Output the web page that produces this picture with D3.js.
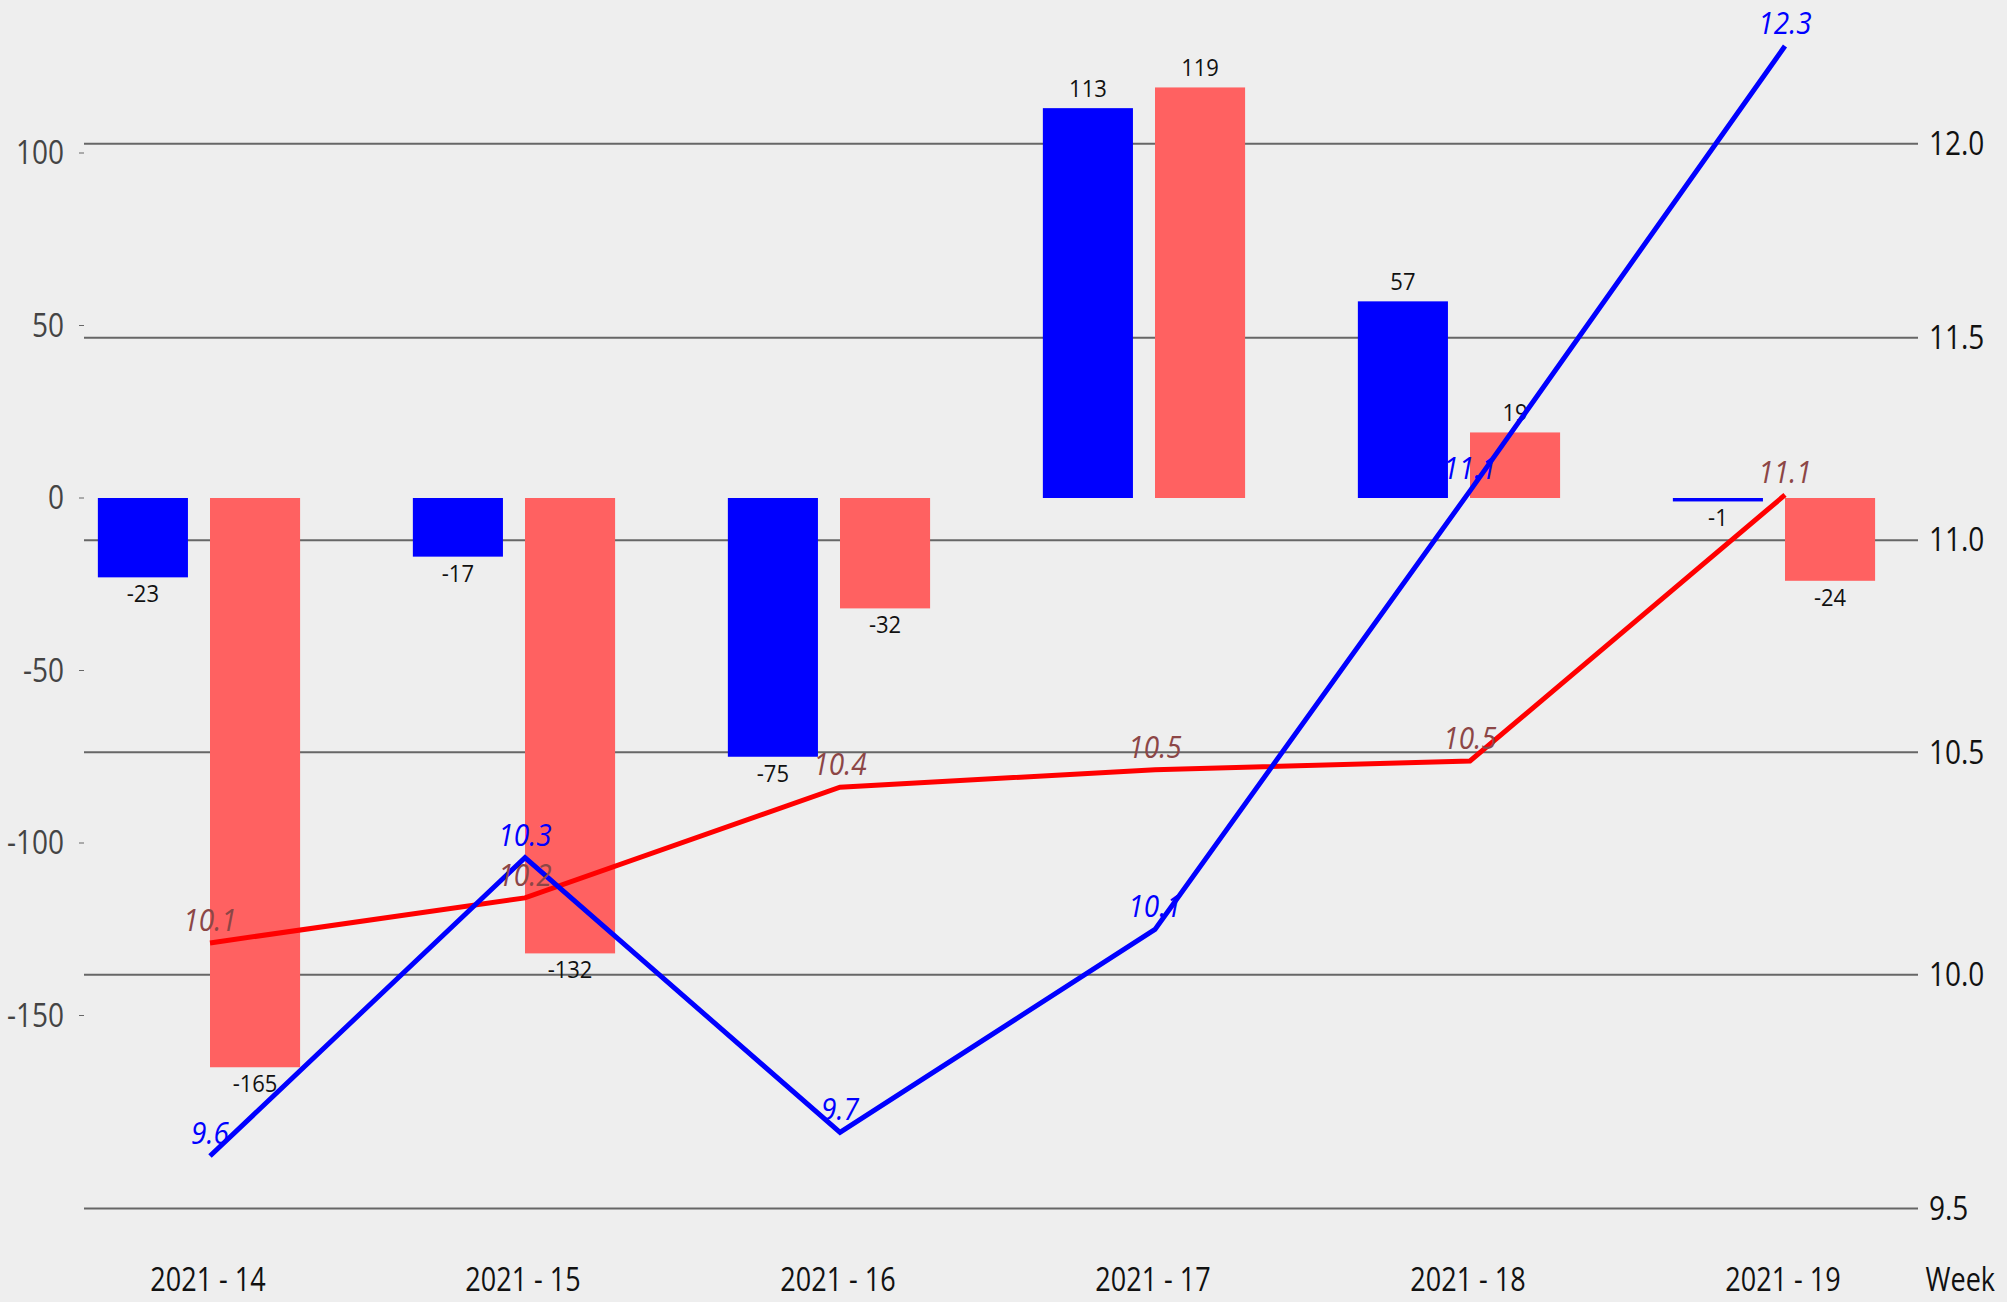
<!DOCTYPE html>
<html>
<head>
<meta charset="utf-8">
<script src="https://cdn.jsdelivr.net/npm/d3@7"></script>
<style>
  html, body { margin: 0; padding: 0; background: #eeeeee; }
  svg { display: block; }
  text { font-family: "Open Sans", "Noto Sans", sans-serif; }
</style>
</head>
<body>
<div id="chart"></div>
<script>
// week labels and series
var weeks = ["2021 - 14", "2021 - 15", "2021 - 16", "2021 - 17", "2021 - 18", "2021 - 19"];
var barBlue = [-23, -17, -75, 113, 57, -1];
var barRed = [-165, -132, -32, 119, 19, -24];
var lineBlue = [9.61, 10.26, 9.66, 10.10, 11.12, 12.26];
var lineRed = [10.07, 10.17, 10.42, 10.46, 10.48, 11.11];
var leftTicks = [-150, -100, -50, 0, 50, 100];
var rightTicks = [9.5, 10.0, 10.5, 11.0, 11.5, 12.0];

var width = 2007;
var height = 1302;

var svg = d3.select("#chart").append("svg")
    .attr("width", width)
    .attr("height", height);

svg.append("rect")
    .attr("width", width)
    .attr("height", height)
    .attr("fill", "#eeeeee");

var x = d3.scalePoint()
    .domain(weeks)
    .range([210, 1785]);

var yLeft = d3.scaleLinear()
    .domain([-200, 100])
    .range([1188, 153]);

var yRight = d3.scaleLog()
    .domain([9.5, 12])
    .range([1208.5, 143.7]);

var barW = x.step() * 0.286;
var blueOff = -x.step() * 0.356;

// text is a bit taller than wide in the original, so stretch it
function place(sel, fx, fy, k) {
    return sel.attr("transform", function (d, i) {
        return "translate(" + fx(d, i) + "," + fy(d, i) + ") scale(1," + k + ")";
    });
}

// grid lines from the right axis
svg.append("g").selectAll("line")
    .data(rightTicks)
    .enter().append("line")
    .attr("x1", 84)
    .attr("x2", 1918)
    .attr("y1", function (d) { return yRight(d); })
    .attr("y2", function (d) { return yRight(d); })
    .attr("stroke", "#666666")
    .attr("stroke-width", 2);

// left axis ticks
svg.append("g").selectAll("line")
    .data(leftTicks)
    .enter().append("line")
    .attr("x1", 79)
    .attr("x2", 84)
    .attr("y1", function (d) { return yLeft(d); })
    .attr("y2", function (d) { return yLeft(d); })
    .attr("stroke", "#666666")
    .attr("stroke-width", 1);

place(svg.append("g").selectAll("text")
    .data(leftTicks)
    .enter().append("text")
    .attr("text-anchor", "end")
    .attr("dy", "0.35em")
    .attr("font-size", 28)
    .attr("fill", "#444444")
    .text(function (d) { return d; }),
    function () { return 64; }, function (d) { return yLeft(d); }, 1.14);

place(svg.append("g").selectAll("text")
    .data(rightTicks)
    .enter().append("text")
    .attr("text-anchor", "start")
    .attr("dy", "0.35em")
    .attr("font-size", 28)
    .attr("fill", "#111111")
    .text(function (d) { return d3.format(".1f")(d); }),
    function () { return 1929; }, function (d) { return yRight(d); }, 1.14);

// x labels
place(svg.append("g").selectAll("text")
    .data(weeks)
    .enter().append("text")
    .attr("text-anchor", "middle")
    .attr("font-size", 27)
    .attr("fill", "#111111")
    .text(function (d) { return d; }),
    function (d) { return x(d) - 2; }, function () { return 1291; }, 1.22);

place(svg.append("g").selectAll("text")
    .data(["Week"])
    .enter().append("text")
    .attr("text-anchor", "end")
    .attr("font-size", 27)
    .attr("fill", "#111111")
    .text(function (d) { return d; }),
    function () { return 1995; }, function () { return 1291; }, 1.22);

// bars
var series = [
    { vals: barBlue, color: "#0000ff", off: blueOff },
    { vals: barRed, color: "#ff6161", off: 0 }
];

series.forEach(function (s) {
    var g = svg.append("g");
    g.selectAll("rect")
        .data(s.vals)
        .enter().append("rect")
        .attr("x", function (d, i) { return x(weeks[i]) + s.off; })
        .attr("width", barW)
        .attr("y", function (d) { return yLeft(Math.max(0, d)); })
        .attr("height", function (d) { return Math.abs(yLeft(d) - yLeft(0)); })
        .attr("fill", s.color);

    place(g.selectAll("text")
        .data(s.vals)
        .enter().append("text")
        .attr("text-anchor", "middle")
        .attr("font-size", 22)
        .attr("fill", "#111111")
        .text(function (d) { return d; }),
        function (d, i) { return x(weeks[i]) + s.off + barW / 2; },
        function (d) { return d >= 0 ? yLeft(d) - 11 : yLeft(d) + 25; }, 1.1);
});

// lines
var line = d3.line()
    .x(function (d, i) { return x(weeks[i]); })
    .y(function (d) { return yRight(d); });

var lines = [
    { vals: lineRed, color: "#ff0000", label: "#8c4646" },
    { vals: lineBlue, color: "#0000ff", label: "#0000ff" }
];

lines.forEach(function (s) {
    svg.append("path")
        .datum(s.vals)
        .attr("fill", "none")
        .attr("stroke", s.color)
        .attr("stroke-width", 5)
        .attr("d", line);
});

lines.forEach(function (s) {
    place(svg.append("g").selectAll("text")
        .data(s.vals)
        .enter().append("text")
        .attr("text-anchor", "middle")
        .attr("font-size", 28)
        .attr("font-style", "italic")
        .attr("fill", s.label)
        .text(function (d) { return d3.format(".1f")(d); }),
        function (d, i) { return x(weeks[i]); },
        function (d) { return yRight(d) - 12; }, 1.12);
});
</script>
</body>
</html>
